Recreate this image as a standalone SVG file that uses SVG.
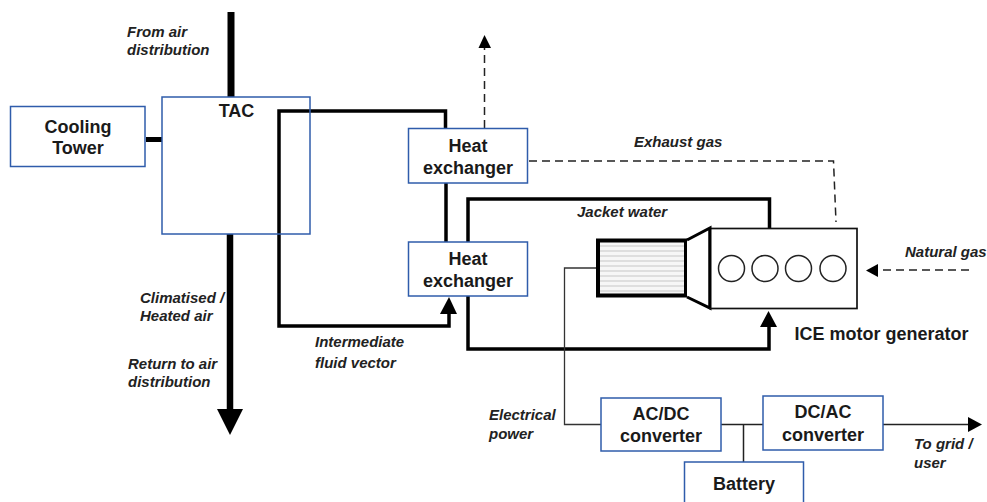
<svg xmlns="http://www.w3.org/2000/svg" width="987" height="502" viewBox="0 0 987 502">
<style>
.box{fill:#fff;stroke:#2f5cab;stroke-width:1.5}
.t{font-family:"Liberation Sans",Arial,sans-serif;font-weight:bold;font-size:18px;fill:#1a1a1a;text-anchor:middle}
.i{font-family:"Liberation Sans",Arial,sans-serif;font-weight:bold;font-style:italic;font-size:15px;fill:#222}
.k{fill:none;stroke:#000;stroke-linejoin:miter}
.d{fill:none;stroke:#222;stroke-width:1.5;stroke-dasharray:8 5}
</style>
<defs>
<pattern id="st" width="4" height="5" patternUnits="userSpaceOnUse"><rect width="4" height="5" fill="#f6f6f6"/><rect y="0" width="4" height="2" fill="#dedede"/></pattern>
</defs>
<g id="connectors">
<path class="k" stroke-width="7" d="M231 12V97"/>
<path class="k" stroke-width="6.500" d="M230 234V412"/>
<path d="M217 409H243L230 435Z" fill="#000"/>
<path class="k" stroke-width="5" d="M146 139.500H162"/>
<path class="k" stroke-width="3.500" d="M445.500 128V111H279V326H449V312"/>
<path d="M440 314H457L449 297Z" fill="#000"/>
<path class="k" stroke-width="3.500" d="M446 183V243"/>
<path class="k" stroke-width="3.500" d="M468 242V199H769.500V228"/>
<path class="k" stroke-width="3.500" d="M468 296V349H769V325"/>
<path d="M760 327H777L768.500 311Z" fill="#000"/>
<path class="d" d="M529 161H833.500L836 222"/>
<path class="d" d="M484.500 128V46"/>
<path d="M478.500 48H491L484.500 35Z" fill="#000"/>
<path class="d" d="M969 270H874"/>
<path d="M878 264V277L866 270.500Z" fill="#000"/>
<path fill="none" stroke="#333" stroke-width="1.300" d="M596 268H564.500V424.500H601"/>
<path fill="none" stroke="#222" stroke-width="1.500" d="M721 424.500H763M743.500 424.500V462M883 424.500H970"/>
<path d="M968 417V432L982 424.500Z" fill="#000"/>
</g>
<g id="cooling-tower"><rect class="box" x="10.500" y="106.500" width="134.500" height="60"/><text class="t" x="78" y="132.500">Cooling</text><text class="t" x="78" y="154">Tower</text></g>
<g id="tac"><rect x="162" y="97" width="148" height="137" fill="none" stroke="#2f5cab" stroke-width="1.500"/><text class="t" x="236.500" y="117">TAC</text></g>
<g id="heat-exchanger-1"><rect class="box" x="408.500" y="128.500" width="119" height="54.500"/><text class="t" x="468" y="152">Heat</text><text class="t" x="468" y="174">exchanger</text></g>
<g id="heat-exchanger-2"><rect class="box" x="408.500" y="242" width="119" height="54"/><text class="t" x="468" y="265">Heat</text><text class="t" x="468" y="287">exchanger</text></g>
<g id="generator"><rect x="598" y="240.500" width="88" height="55" fill="url(#st)" stroke="#000" stroke-width="4"/><path d="M687 240L710 228V308L687 297" fill="#fff" stroke="#000" stroke-width="3"/></g>
<g id="ice-engine"><rect x="710" y="228.500" width="147" height="80" fill="#fff" stroke="#111" stroke-width="1.700"/><path d="M710 228V308" stroke="#000" stroke-width="3"/>
<g fill="none" stroke="#222" stroke-width="1.500"><circle cx="731.500" cy="268.500" r="13"/><circle cx="765" cy="268.500" r="13"/><circle cx="798.500" cy="268.500" r="13"/><circle cx="833" cy="268.500" r="13"/></g>
<text class="t" x="881.500" y="340">ICE motor generator</text></g>
<g id="ac-dc"><rect class="box" x="601" y="398" width="120" height="53"/><text class="t" x="661" y="420">AC/DC</text><text class="t" x="661" y="442">converter</text></g>
<g id="dc-ac"><rect class="box" x="763" y="396" width="120" height="54"/><text class="t" x="823" y="418">DC/AC</text><text class="t" x="823" y="441">converter</text></g>
<g id="battery"><rect class="box" x="684.500" y="462" width="119" height="45"/><text class="t" x="744" y="490">Battery</text></g>
<g id="labels">
<text class="i" x="127" y="37">From air</text><text class="i" x="127" y="55">distribution</text>
<text class="i" x="140" y="303">Climatised /</text><text class="i" x="140" y="321">Heated air</text>
<text class="i" x="128" y="369">Return to air</text><text class="i" x="128" y="387">distribution</text>
<text class="i" x="315" y="347">Intermediate</text><text class="i" x="315" y="368">fluid vector</text>
<text class="i" x="634" y="147">Exhaust gas</text>
<text class="i" x="577" y="217">Jacket water</text>
<text class="i" x="905" y="257">Natural gas</text>
<text class="i" x="489" y="420">Electrical</text><text class="i" x="489" y="439">power</text>
<text class="i" x="914" y="449">To grid /</text><text class="i" x="914" y="468">user</text>
</g>
</svg>
